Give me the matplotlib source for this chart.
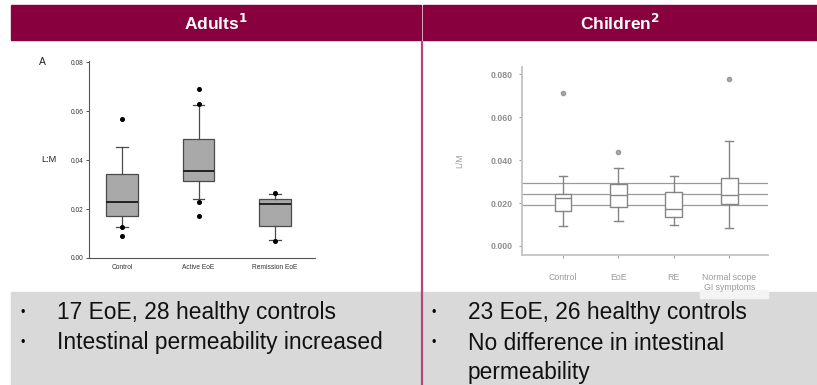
import matplotlib
matplotlib.use("Agg")
import matplotlib.pyplot as plt
from matplotlib.patches import Rectangle
from matplotlib.lines import Line2D

plt.rcParams['font.family'] = ['Liberation Sans', 'DejaVu Sans']

# ---------------- data ----------------
adult_groups = ["Control", "Active EoE", "Remission EoE"]
adult_q1 = [0.0170, 0.0315, 0.0130]
adult_med = [0.0228, 0.0355, 0.0220]
adult_q3 = [0.0345, 0.0485, 0.0240]
adult_whislo = [0.0125, 0.0240, 0.0075]
adult_whishi = [0.0455, 0.0625, 0.0260]
adult_fliers = [[0.057, 0.0125, 0.009], [0.069, 0.063, 0.023, 0.017], [0.0265, 0.0068]]
adult_yticks = [0.00, 0.02, 0.04, 0.06, 0.08]

child_groups = ["Control", "EoE", "RE", "Normal scope\nGI symptoms"]
child_q1 = [0.0163, 0.0180, 0.0135, 0.0195]
child_med = [0.0222, 0.0237, 0.0172, 0.0237]
child_q3 = [0.0242, 0.0288, 0.0251, 0.0316]
child_whislo = [0.0093, 0.0116, 0.0098, 0.0084]
child_whishi = [0.0326, 0.0363, 0.0326, 0.0488]
child_fliers = [[0.0712], [0.0437], [], [0.0777]]
child_reflines = [0.0293, 0.0242, 0.0190]
child_yticks = [0.000, 0.020, 0.040, 0.060, 0.080]

W, H = 817, 385
fig = plt.figure(figsize=(W / 100, H / 100), dpi=100)

def px(x0, y0, w, h):
    return (x0 / W, 1 - (y0 + h) / H, w / W, h / H)

HEAD = "#89003e"
# header cells
fig.patches.append(Rectangle((11 / W, 1 - 40 / H), (421 - 11) / W, 35 / H,
                             transform=fig.transFigure, color=HEAD, zorder=-2))
fig.patches.append(Rectangle((423 / W, 1 - 40 / H), (817 - 423) / W, 35 / H,
                             transform=fig.transFigure, color=HEAD, zorder=-2))
# bottom gray area
fig.patches.append(Rectangle((11 / W, 0), (817 - 11) / W, (385 - 292) / H,
                             transform=fig.transFigure, color="#d9d9d9", zorder=-3))
# white backdrop of the children picture spilling onto gray
fig.patches.append(Rectangle((700 / W, 1 - 298 / H), (768 - 700) / W, 8 / H,
                             transform=fig.transFigure, color="#f4f4f4", zorder=-2.5))
# vertical divider
fig.lines.append(Line2D([421.5 / W, 421.5 / W], [0, 1 - 42 / H], transform=fig.transFigure,
                        color="#b0487a", lw=1.6, zorder=5))

fig.text(216 / W, 1 - 23 / H, r"Adults$^{\mathbf{1}}$", color="white", fontsize=12.5,
         fontweight="bold", ha="center", va="center")
fig.text(620 / W, 1 - 23 / H, r"Children$^{\mathbf{2}}$", color="white", fontsize=12.5,
         fontweight="bold", ha="center", va="center")

# bullets
bfs = 16.4
lines_left = [(313, "17 EoE, 28 healthy controls"), (343, "Intestinal permeability increased")]
lines_right = [(313, "23 EoE, 26 healthy controls"), (343, "No difference in intestinal"),
               (372, "permeability")]
for y, t in lines_left:
    fig.text(23 / W, 1 - y / H, "•", fontsize=9, ha="center", va="center")
    fig.text(57 / W, 1 - y / H, t, fontsize=bfs, ha="left", va="center", color="#111111")
for i, (y, t) in enumerate(lines_right):
    if i < 2:
        fig.text(434 / W, 1 - y / H, "•", fontsize=9, ha="center", va="center")
    fig.text(468 / W, 1 - y / H, t, fontsize=bfs, ha="left", va="center", color="#111111")

# ---------------- adult chart ----------------
ax1 = fig.add_axes(px(89, 61, 226, 197))
ax1.set_facecolor("none")
stats1 = []
for i, g in enumerate(adult_groups):
    stats1.append(dict(label=g, q1=adult_q1[i], med=adult_med[i], q3=adult_q3[i],
                       whislo=adult_whislo[i], whishi=adult_whishi[i], fliers=adult_fliers[i]))
ax1.bxp(stats1, positions=[1, 2, 3], widths=0.41, patch_artist=True,
        boxprops=dict(facecolor="#a9a9a9", edgecolor="#4a4a4a", linewidth=0.9),
        medianprops=dict(color="#222222", linewidth=1.4),
        whiskerprops=dict(color="#4a4a4a", linewidth=0.9),
        capprops=dict(color="#4a4a4a", linewidth=0.9),
        capwidths=0.15,
        flierprops=dict(marker="o", markersize=2.6, markerfacecolor="black",
                        markeredgecolor="black"))
ax1.set_xlim(0.57, 3.52)
ax1.set_ylim(0, 0.0805)
ax1.set_yticks(adult_yticks)
ax1.set_yticklabels(["0.00", "0.02", "0.04", "0.06", "0.08"])
ax1.tick_params(axis="both", labelsize=4.8, colors="#333333", length=2, width=0.6, pad=2)
ax1.tick_params(axis="x", length=0, pad=4)
for s in ["top", "right"]:
    ax1.spines[s].set_visible(False)
for s in ["left", "bottom"]:
    ax1.spines[s].set_color("#555555")
    ax1.spines[s].set_linewidth(0.8)
fig.text(48.5 / W, 1 - 160 / H, "L:M", fontsize=6.6, ha="center", va="center", color="#222222")
fig.text(42 / W, 1 - 62 / H, "A", fontsize=7.5, ha="center", va="center", color="#222222")

# ---------------- children chart ----------------
ax2 = fig.add_axes(px(522, 67, 246, 188))
ax2.set_facecolor("none")
LC = "#858585"
for y in child_reflines:
    ax2.axhline(y, color="#9a9a9a", lw=0.9, zorder=1)
stats2 = []
for i, g in enumerate(child_groups):
    stats2.append(dict(label=g, q1=child_q1[i], med=child_med[i], q3=child_q3[i],
                       whislo=child_whislo[i], whishi=child_whishi[i], fliers=child_fliers[i]))
ax2.bxp(stats2, positions=[1, 2, 3, 4], widths=0.3, patch_artist=True,
        boxprops=dict(facecolor="white", edgecolor=LC, linewidth=1.0),
        medianprops=dict(color=LC, linewidth=1.0),
        whiskerprops=dict(color=LC, linewidth=1.0),
        capprops=dict(color=LC, linewidth=1.0),
        capwidths=0.15,
        flierprops=dict(marker="o", markersize=3.0, markerfacecolor="#aaaaaa",
                        markeredgecolor="#999999"))
ax2.set_xlim(0.26, 4.70)
ax2.set_ylim(-0.0042, 0.0833)
ax2.set_yticks(child_yticks)
ax2.set_yticklabels(["0.000", "0.020", "0.040", "0.060", "0.080"])
ax2.tick_params(axis="both", labelsize=6.3, colors="#a0a0a0", length=2, width=0.8, pad=5)
ax2.tick_params(axis="x", pad=11)
for lab in ax2.get_yticklabels() + ax2.get_xticklabels():
    lab.set_fontweight("bold")
    lab.set_color("#8e8e8e")
for lab in ax2.get_xticklabels():
    lab.set_fontweight("normal")
    lab.set_color("#9a9a9a")
for s in ["top", "right"]:
    ax2.spines[s].set_visible(False)
for s in ["left", "bottom"]:
    ax2.spines[s].set_color("#c4c4c4")
    ax2.spines[s].set_linewidth(1.3)
ax2.set_ylabel("L/M", fontsize=6.3, color="#a0a0a0", labelpad=19)

fig.savefig("out.png", dpi=100)
